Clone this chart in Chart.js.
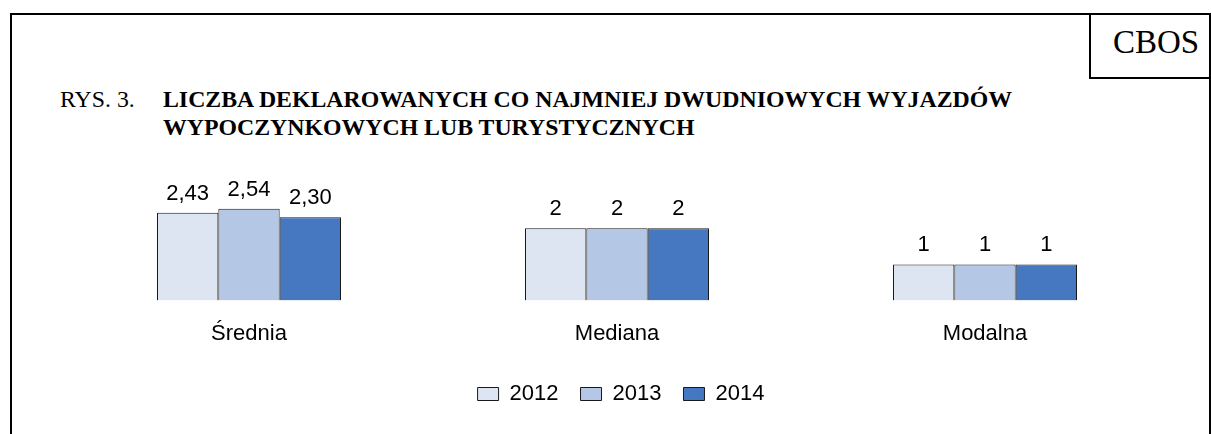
<!DOCTYPE html>
<html>
<head>
<meta charset="utf-8">
<script src="https://cdn.jsdelivr.net/npm/chart.js@4.4.0/dist/chart.umd.min.js"></script>
<style>
  html, body { margin: 0; padding: 0; background: #fff; }
  #wrap { position: relative; width: 1211px; height: 434px; overflow: hidden; }
  #frame { position: absolute; left: 10px; top: 13px; width: 1197px; height: 440px;
           border-left: 2px solid #000; border-top: 2px solid #000; border-right: 2px solid #000; }
  #cbos { position: absolute; left: 1089px; top: 13px; width: 120px; height: 64px;
          border-left: 2px solid #000; border-bottom: 2px solid #000;
          font-family: "Liberation Serif", "Times New Roman", serif; font-size: 33px; }
  #cbos span { position: absolute; left: 22px; top: 11px; }
  .t { position: absolute; font-family: "Liberation Serif", "Times New Roman", serif; font-size: 23.8px; color: #000; }
  canvas { position: absolute; left: 0; top: 0; }
</style>
</head>
<body>
<div id="wrap">
  <div id="frame"></div>
  <div id="cbos"><span>CBOS</span></div>
  <div class="t" style="left:60px; top:86px;">RYS. 3.</div>
  <div class="t" style="left:163px; top:86px; font-weight:bold;">LICZBA DEKLAROWANYCH CO NAJMNIEJ DWUDNIOWYCH WYJAZDÓW</div>
  <div class="t" style="left:163px; top:114px; font-weight:bold;">WYPOCZYNKOWYCH LUB TURYSTYCZNYCH</div>
  <canvas id="chart" width="1211" height="434"></canvas>
</div>
<script>
// data
const categories = ['Średnia', 'Mediana', 'Modalna'];
const years = ['2012', '2013', '2014'];
const values2012 = [2.43, 2, 1];
const values2013 = [2.54, 2, 1];
const values2014 = [2.30, 2, 1];
const labelDecimals = [2, 0, 0];

const fills = ['#dce5f1', '#b4c7e5', '#4678c2'];
const seriesValues = [values2012, values2013, values2014];

// numbers above the bars, polish decimal comma
const valueLabels = {
    id: 'valueLabels',
    afterDatasetsDraw(chart) {
        const ctx = chart.ctx;
        ctx.save();
        ctx.font = '22px "Liberation Sans", Arial, sans-serif';
        ctx.fillStyle = '#000';
        ctx.textAlign = 'center';
        ctx.textBaseline = 'alphabetic';
        chart.data.datasets.forEach((ds, di) => {
            chart.getDatasetMeta(di).data.forEach((bar, i) => {
                const txt = ds.data[i].toFixed(labelDecimals[i]).replace('.', ',');
                ctx.fillText(txt, bar.x, bar.y - 13);
            });
        });
        ctx.restore();
    }
};

// legend sits a bit closer to the category labels than chart.js puts it
const legendNudge = {
    id: 'legendNudge',
    afterLayout(chart) {
        const lg = chart.legend;
        lg.top -= 6;
        lg.bottom -= 6;
        lg.left += 4;
        lg.right += 4;
    }
};

new Chart(document.getElementById('chart'), {
    type: 'bar',
    data: {
        labels: categories,
        datasets: years.map((y, i) => ({
            label: y,
            data: seriesValues[i],
            backgroundColor: fills[i],
            borderColor: '#1a1a1a',
            borderWidth: 1,
            barPercentage: 1,
            categoryPercentage: 0.5
        }))
    },
    options: {
        responsive: false,
        animation: false,
        layout: { padding: { left: 65, right: 42, top: 192, bottom: 13 } },
        scales: {
            x: {
                grid: { display: false, drawTicks: false },
                border: { display: false },
                ticks: {
                    color: '#000',
                    padding: 20,
                    font: { family: '"Liberation Sans", Arial, sans-serif', size: 22 }
                }
            },
            y: { display: false, min: 0, max: 3 }
        },
        plugins: {
            legend: {
                position: 'bottom',
                labels: {
                    color: '#000',
                    boxWidth: 21,
                    boxHeight: 13,
                    padding: 22,
                    font: { family: '"Liberation Sans", Arial, sans-serif', size: 22 }
                }
            },
            tooltip: { enabled: false }
        }
    },
    plugins: [valueLabels, legendNudge]
});
</script>
</body>
</html>
